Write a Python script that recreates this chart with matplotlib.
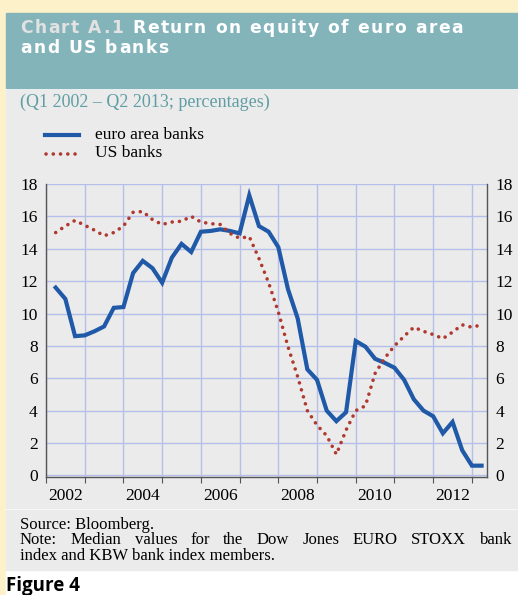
import matplotlib
matplotlib.use("Agg")
import matplotlib.pyplot as plt
import numpy as np
from matplotlib.font_manager import FontProperties
from matplotlib.patches import Rectangle

# quarterly median return on equity, Q1 2002 onward (percentages)
euro_area = [11.6, 10.9, 8.6, 8.65, 8.9, 9.2, 10.35, 10.4, 12.5, 13.25,
             12.8, 11.9, 13.45, 14.3, 13.8, 15.05, 15.1, 15.2, 15.1, 14.95,
             17.3, 15.4, 15.05, 14.1, 11.5, 9.7, 6.55, 5.9, 4.0, 3.35,
             3.9, 8.3, 7.95, 7.2, 6.95, 6.65, 5.9, 4.7, 4.0, 3.65,
             2.6, 3.3, 1.55, 0.6, 0.6]
us_banks = [15.0, 15.4, 15.75, 15.45, 15.15, 14.8, 15.0, 15.4, 16.25, 16.3,
            15.8, 15.5, 15.65, 15.7, 16.0, 15.65, 15.55, 15.5, 14.95, 14.65,
            14.75, 13.4, 11.9, 10.1, 7.95, 6.1, 4.0, 3.1, 2.45, 1.3,
            2.8, 4.0, 4.3, 6.3, 7.25, 8.0, 8.6, 9.15, 8.9, 8.7,
            8.45, 8.85, 9.3, 9.15, 9.3]
first_year = 2002
year_labels = ["2002", "2004", "2006", "2008", "2010", "2012"]
y_ticks = [0, 2, 4, 6, 8, 10, 12, 14, 16, 18]

# quarter-end dates
dates = first_year + 0.25 * (np.arange(len(euro_area)) + 1)

W, H = 518, 595
fig = plt.figure(figsize=(W / 100, H / 100), dpi=100, facecolor="#fcf1c8")
renderer = fig.canvas.get_renderer()

EURO_C, US_C = "#1f59a7", "#b0392f"
DOTS = (0, (0.01, 2.0))


def box(x0, y0, x1, y1, color):
    fig.patches.append(Rectangle((x0 / W, 1 - y1 / H), (x1 - x0) / W, (y1 - y0) / H,
                                 transform=fig.transFigure, color=color, zorder=-10))


def width_px(s, fp):
    w, _, _ = renderer.get_text_width_height_descent(s, fp, ismath=False)
    return w


def tracked(x0, y, parts, fp, track):
    """draw (text, color) parts char by char with extra letter spacing (px)."""
    full = "".join(p for p, _ in parts)
    i = 0
    for p, col in parts:
        for ch in p:
            x = x0 + width_px(full[:i], fp) + i * track if i else x0
            fig.text(x / W, 1 - y / H, ch, color=col, fontproperties=fp)
            i += 1


def justified(x0, x1, y, s, fp):
    words = s.split()
    gap = (x1 - x0 - sum(width_px(w, fp) for w in words)) / (len(words) - 1)
    x = x0
    for w in words:
        fig.text(x / W, 1 - y / H, w, fontproperties=fp)
        x += width_px(w, fp) + gap


box(6, 88, W, H, "white")
box(6, 13, W, 88, "#82b4ba")
box(6, 90, W, 508, "#ebebeb")
box(6, 510, W, 570, "#ebebeb")

title_fp = FontProperties(family="DejaVu Sans", weight="bold", size=12.3)
line1 = [("Chart A.1 ", "#e2e2e2"), ("Return on equity of euro area", "white")]
n1 = sum(len(p) for p, _ in line1)
track = (443 - width_px("".join(p for p, _ in line1), title_fp)) / (n1 - 1)
tracked(20, 33, line1, title_fp, track)
tracked(20, 53, [("and US banks", "white")], title_fp, track)

serif = FontProperties(family="Liberation Serif", size=12.5)
note_fp = FontProperties(family="Liberation Serif", size=12)
fig.text(20 / W, 1 - 107 / H, "(Q1 2002 \u2013 Q2 2013; percentages)", color="#5f9ea4",
         fontproperties=FontProperties(family="Liberation Serif", size=13))

ax = fig.add_axes([46 / W, 1 - 477 / H, (487 - 46) / W, (477 - 184) / H])
ax.set_facecolor("none")
ax.plot(dates, euro_area, color=EURO_C, lw=3.0, solid_joinstyle="miter", zorder=3)
ax.plot(dates, us_banks, color=US_C, lw=2.6, linestyle=DOTS, dash_capstyle="round",
        zorder=3)

ax.set_xlim(first_year, first_year + 11.39)
ax.set_ylim(-0.1, 18)
ax.set_yticks(y_ticks)
ax.set_yticklabels([str(v) for v in y_ticks], fontproperties=serif)
ax.tick_params(axis="y", length=0, pad=6, labelright=True)
ax.set_xticks(np.arange(first_year, first_year + 12))
ax.set_xticklabels([])
ax.tick_params(axis="x", direction="out", length=4, color="#555555")
for i, lab in enumerate(year_labels):
    ax.text(first_year + 2 * i + 0.5, -0.75, lab, ha="center", va="top",
            fontproperties=serif)
ax.grid(True, color="#b6bfea", lw=1.0)
for s in ("left", "right", "bottom"):
    ax.spines[s].set_color("#555555")
    ax.spines[s].set_linewidth(1.0)
ax.spines["top"].set_visible(False)

# legend drawn by hand as in the original
fig.lines.append(plt.Line2D([45 / W, 79 / W], [1 - 135 / H] * 2, color=EURO_C, lw=3.0,
                            transform=fig.transFigure))
fig.lines.append(plt.Line2D([46 / W, 80 / W], [1 - 154 / H] * 2, color=US_C, lw=2.6,
                            linestyle=DOTS, dash_capstyle="round",
                            transform=fig.transFigure))
fig.text(95 / W, 1 - 139 / H, "euro area banks", fontproperties=serif)
fig.text(95 / W, 1 - 157 / H, "US banks", fontproperties=serif)

fig.text(20 / W, 1 - 529 / H, "Source: Bloomberg.", fontproperties=note_fp)
justified(20, 512, 544.5, "Note: Median values for the Dow Jones EURO STOXX bank", note_fp)
fig.text(20 / W, 1 - 560 / H, "index and KBW bank index members.", fontproperties=note_fp)
fig.text(6 / W, 1 - 591 / H, "Figure 4", family="Open Sans", fontweight="bold",
         fontsize=13.5)

fig.savefig("out.png", dpi=100, facecolor=fig.get_facecolor())
